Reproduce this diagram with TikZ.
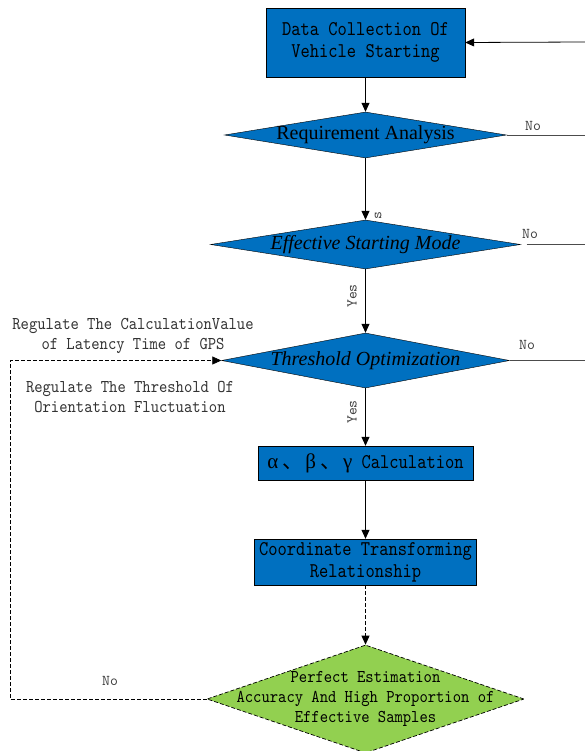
\documentclass[tikz,border=0pt]{standalone}
\usepackage{fontspec}
\setmainfont{Liberation Serif}
\newfontfamily\simfont{lmmono10-regular.otf}[FakeStretch=0.84]
\newfontfamily\notefont{lmmono10-regular.otf}[FakeStretch=0.88]
\newfontfamily\lblfont{lmmono10-regular.otf}
\newfontfamily\grkfont{Liberation Serif}
\newfontfamily\cjkfont{Noto Sans CJK SC}
\usetikzlibrary{shapes.geometric, arrows.meta, positioning}
\definecolor{flowblue}{RGB}{0,112,192}
\definecolor{flowgreen}{RGB}{146,208,80}

\begin{document}
\begin{tikzpicture}[x=1pt, y=-1pt,
	proc/.style={draw=black, fill=flowblue, text=black, inner sep=0pt, align=center,
		font=\simfont\fontsize{21}{22}\selectfont},
	dec/.style={diamond, draw=black, fill=flowblue, inner sep=0pt},
	dectext/.style={font=\fontsize{20}{22}\selectfont},
	note/.style={align=center, text=black!80, font=\notefont\fontsize{18}{20}\selectfont},
	lbl/.style={text=black!75, font=\lblfont\fontsize{15}{15}\selectfont},
	arr/.style={-{Triangle[length=9pt,width=8pt]}, line width=0.8pt},
	dsh/.style={dash pattern=on 4pt off 2pt, line width=0.7pt}]
	\useasboundingbox (0,0) rectangle (585,751);
	% main column
	\node[proc, minimum width=199pt, minimum height=69pt] (data) at (365.5,42.5) {Data Collection Of\\Vehicle Starting};
	\node[dec, minimum width=282pt, minimum height=46pt,
		label={[dectext]center:Requirement Analysis}] (req) at (365.5,135) {};
	\node[dec, minimum width=310pt, minimum height=49pt,
		label={[dectext, font=\itshape\fontsize{20}{22}\selectfont]center:Effective Starting Mode}] (eff) at (365.5,244.5) {};
	\node[dec, minimum width=288pt, minimum height=55pt,
		label={[dectext, font=\itshape\fontsize{20}{22}\selectfont]center:Threshold Optimization}] (thr) at (365.5,360.5) {};
	\node[proc, minimum width=215pt, minimum height=34pt] (abc) at (365.5,463)
		{{\grkfont α}\hspace{4pt}{\cjkfont 、}\hspace{2pt}{\grkfont β}\hspace{4pt}{\cjkfont 、}\hspace{2pt}{\grkfont γ} Calculation};
	\node[proc, minimum width=222pt, minimum height=46pt] (coord) at (365.5,562) {Coordinate Transforming\\Relationship};
	\node[dec, dsh, fill=flowgreen, minimum width=317pt, minimum height=108pt,
		label={[note, text=black]center:Perfect Estimation\\Accuracy And High Proportion of\\Effective Samples}] (perf) at (365.5,699) {};

	% side texts
	\node[note] (lat) at (133,336) {Regulate The CalculationValue\\of Latency Time of GPS};
	\node[note] (ori) at (130,397) {Regulate The Threshold Of\\Orientation Fluctuation};
	\node[lbl] (no1) at (533,126) {No};
	\node[lbl] (no2) at (530,234) {No};
	\node[lbl] (no3) at (527,345) {No};
	\node[lbl] (no4) at (110,681) {No};
	\node[lbl, rotate=90] (yes0) at (378,216) {s};
	\node[lbl, rotate=90] (yes1) at (352,296) {Yes};
	\node[lbl, rotate=90] (yes2) at (352,412) {Yes};

	% right edge ends
	\coordinate (r0) at (585,42);
	\coordinate (r1) at (585,135);
	\coordinate (r2) at (585,244.5);
	\coordinate (r3) at (585,360.5);
	% left loop corners
	\coordinate (c1) at (10,360.5);
	\coordinate (c2) at (10,699);

	\draw[arr] (r0) -- (data.east);
	\draw[arr] (data.south) -- (req.north);
	\draw[arr] (req.south) -- (eff.north);
	\draw[arr] (eff.south) -- (thr.north);
	\draw[arr] (thr.south) -- (abc.north);
	\draw[arr] (abc.south) -- (coord.north);
	\draw[arr, dsh] (coord.south) -- (perf.north);
	\draw[line width=0.8pt, black!70] (req.east) -- (r1);
	\draw[line width=0.8pt, black!70] ([xshift=6pt]eff.east) -- (r2);
	\draw[line width=0.8pt, black!70] (thr.east) -- (r3);
	\draw[arr, dsh] (perf.west) -- (c2) -- (c1) -- (thr.west);
\end{tikzpicture}
\end{document}
